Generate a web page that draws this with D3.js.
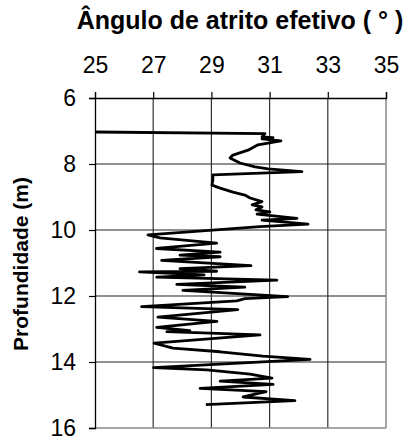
<!DOCTYPE html>
<html><head><meta charset="utf-8">
<script src="https://cdn.jsdelivr.net/npm/d3@7"></script>
<style>body{margin:0;background:#fff}svg{display:block}text{font-family:"Liberation Sans",Arial,sans-serif;fill:#000}</style>
</head><body>
<svg id="c" width="415" height="441"></svg>
<script>
const xTicks = [25, 27, 29, 31, 33, 35];
const yTicks = [6, 8, 10, 12, 14, 16];
const depth = [7.03,7.08,7.18,7.20,7.24,7.30,7.42,7.58,7.73,7.82,7.97,8.09,8.15,8.23,8.33,8.48,8.64,8.73,8.85,8.94,9.03,9.14,9.24,9.30,9.39,9.45,9.52,9.65,9.70,9.82,9.90,10.15,10.24,10.40,10.56,10.67,10.76,10.81,10.92,11.08,11.17,11.25,11.27,11.36,11.43,11.52,11.65,11.73,11.83,12.02,12.08,12.15,12.32,12.41,12.64,12.77,12.95,13.05,13.08,13.18,13.43,13.58,13.69,13.82,13.92,14.17,14.24,14.37,14.49,14.58,14.68,14.80,14.90,15.06,15.17,15.29];
const angle = [25.0,30.84,30.74,31.12,30.74,31.39,30.60,30.26,29.74,29.64,29.98,30.50,30.95,32.11,29.05,29.05,29.02,29.30,29.74,30.15,30.33,30.74,30.40,30.74,30.53,31.01,30.57,31.94,30.74,32.32,30.67,26.82,27.23,29.18,27.11,29.30,27.92,29.30,27.29,30.36,27.92,29.18,26.53,28.75,27.12,31.25,27.81,30.15,28.02,31.62,30.15,29.87,26.60,29.91,27.16,29.19,27.12,28.26,27.47,30.67,27.03,27.68,29.30,30.77,32.39,27.01,28.84,30.33,31.08,29.30,31.12,28.61,30.88,30.09,31.87,28.81];
const xTitle = "Ângulo de atrito efetivo ( ° )";
const yTitle = "Profundidade (m)";

const svg = d3.select("#c");
const L = 95, R = 386, T = 98, B = 428;
const x = d3.scaleLinear().domain([25, 35]).range([L, R]);
const y = d3.scaleLinear().domain([6, 16]).range([T, B]);

// gridlines
svg.append("g").selectAll("line").data(xTicks.slice(1, -1)).join("line")
  .attr("x1", d => x(d)).attr("x2", d => x(d)).attr("y1", T).attr("y2", B)
  .attr("stroke", "#333").attr("stroke-width", 1.2);
svg.append("g").selectAll("line").data(yTicks.slice(1, -1)).join("line")
  .attr("x1", L).attr("x2", R).attr("y1", d => y(d)).attr("y2", d => y(d))
  .attr("stroke", "#222").attr("stroke-width", 1.2);
// plot border right & bottom
svg.append("line").attr("x1", R).attr("x2", R).attr("y1", T).attr("y2", B).attr("stroke", "#888").attr("stroke-width", 1.5);
svg.append("line").attr("x1", L).attr("x2", R).attr("y1", B).attr("y2", B).attr("stroke", "#888").attr("stroke-width", 1.5);

// axes
const xAxis = svg.append("g").attr("transform", `translate(0,${T})`)
  .call(d3.axisTop(x).tickValues(xTicks).tickSize(6).tickPadding(19).tickFormat(d3.format("d")));
const yAxis = svg.append("g").attr("transform", `translate(${L},0)`)
  .call(d3.axisLeft(y).tickValues(yTicks).tickSize(6).tickPadding(13).tickFormat(d3.format("d")));
[xAxis, yAxis].forEach(g => {
  g.select(".domain").attr("stroke", "#000").attr("stroke-width", 1.3);
  g.selectAll(".tick line").attr("stroke", "#000").attr("stroke-width", 1.2);
  g.selectAll(".tick text").attr("font-size", 23).attr("font-family", '"Liberation Sans", Arial, sans-serif').attr("fill", "#000");
});

// data line
const pts = depth.map((d, i) => [angle[i], d]);
svg.append("path").datum(pts)
  .attr("fill", "none").attr("stroke", "#000").attr("stroke-width", 2.8).attr("stroke-linejoin", "round")
  .attr("d", d3.line().x(d => x(d[0])).y(d => y(d[1])));

// titles
svg.append("text").attr("x", 240).attr("y", 29).attr("text-anchor", "middle")
  .attr("font-size", 25).attr("font-weight", "bold").text(xTitle);
svg.append("text").attr("transform", `translate(28,264) rotate(-90)`).attr("text-anchor", "middle")
  .attr("font-size", 21).attr("font-weight", "bold").text(yTitle);
</script>
</body></html>
